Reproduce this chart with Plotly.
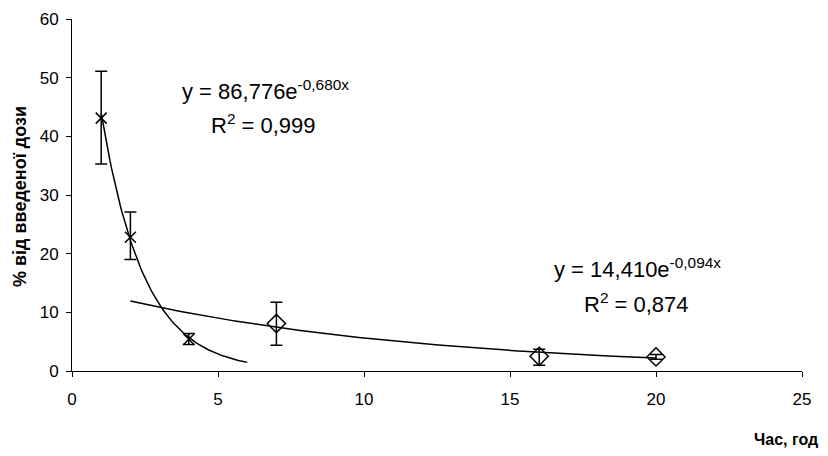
import numpy as np
import plotly.graph_objects as go

# Series 1 (crosses)
x1 = [1, 2, 4]
y1 = [43.1, 22.8, 5.4]
e1_plus = [8.0, 4.3, 1.0]
e1_minus = [7.8, 3.8, 0.9]

# Series 2 (diamonds)
x2 = [7, 16, 20]
y2 = [8.1, 2.5, 2.4]
e2_plus = [3.6, 1.2, 0.4]
e2_minus = [3.7, 1.5, 0.4]

# Exponential trend lines (as printed on chart)
fit1_a, fit1_b, fit1_range = 86.776, -0.680, (1, 6)
fit2_a, fit2_b, fit2_range = 14.410, -0.094, (2, 20)

xt1 = np.linspace(*fit1_range, 100)
xt2 = np.linspace(*fit2_range, 100)

FONT = "Liberation Sans"

# page has 8px body margin -> compensate
OFF = 8
W, H = 828 - OFF, 456 - OFF
# desired plot area in screen pixels
PL, PR, PT, PB = 72, 802, 19, 371

fig = go.Figure()
fig.add_trace(go.Scatter(x=xt1, y=fit1_a * np.exp(fit1_b * xt1), mode="lines",
                         line=dict(color="black", width=1.5), showlegend=False))
fig.add_trace(go.Scatter(x=xt2, y=fit2_a * np.exp(fit2_b * xt2), mode="lines",
                         line=dict(color="black", width=1.5), showlegend=False))
fig.add_trace(go.Scatter(
    x=x1, y=y1, mode="markers",
    marker=dict(symbol="x-thin-open", size=11, line=dict(color="black", width=1.5), color="black"),
    error_y=dict(type="data", array=e1_plus, arrayminus=e1_minus, color="black", thickness=1.5, width=6),
    showlegend=False))
fig.add_trace(go.Scatter(
    x=x2, y=y2, mode="markers",
    marker=dict(symbol="diamond-open", size=14, line=dict(color="black", width=1.5), color="black"),
    error_y=dict(type="data", array=e2_plus, arrayminus=e2_minus, color="black", thickness=1.5, width=6),
    showlegend=False))


def pa(px, py):
    return (px - PL) / (PR - PL), (PB - py) / (PB - PT)


ann_specs = [
    ("y = 86,776e<sup>-0,680x</sup>", 265, 90, 22, 0),
    ("R<sup>2</sup> = 0,999", 264, 124, 22, 0),
    ("y = 14,410e<sup>-0,094x</sup>", 637, 268, 22, 0),
    ("R<sup>2</sup> = 0,874", 636, 303, 22, 0),
    ("<b>% від введеної дози</b>", 20, 197, 18, -90),
    ("<b>Час, год</b>", 786, 439, 16, 0),
]
annotations = []
for text, px, py, fs, ang in ann_specs:
    ax, ay = pa(px, py)
    annotations.append(dict(text=text, x=ax, y=ay, xref="paper", yref="paper",
                            xanchor="center", yanchor="middle", showarrow=False,
                            textangle=ang, font=dict(size=fs, family=FONT, color="black")))

fig.update_layout(
    width=W, height=H,
    margin=dict(l=PL - OFF, r=W - (PR - OFF), t=PT - OFF, b=H - (PB - OFF), autoexpand=False),
    paper_bgcolor="white", plot_bgcolor="white",
    font=dict(family=FONT, size=17, color="black"),
    xaxis=dict(range=[0, 25], tickvals=[0, 5, 10, 15, 20, 25], showgrid=False, zeroline=False,
               showline=True, linecolor="black", linewidth=1, ticks="outside", ticklen=5,
               tickcolor="black", tickfont=dict(size=17), ticklabelstandoff=8),
    yaxis=dict(range=[0, 60], tickvals=[0, 10, 20, 30, 40, 50, 60], showgrid=False, zeroline=False,
               showline=True, linecolor="black", linewidth=1, ticks="outside", ticklen=5,
               tickcolor="black", tickfont=dict(size=17), ticklabelstandoff=4),
    annotations=annotations,
)

fig.write_html("out.html")
